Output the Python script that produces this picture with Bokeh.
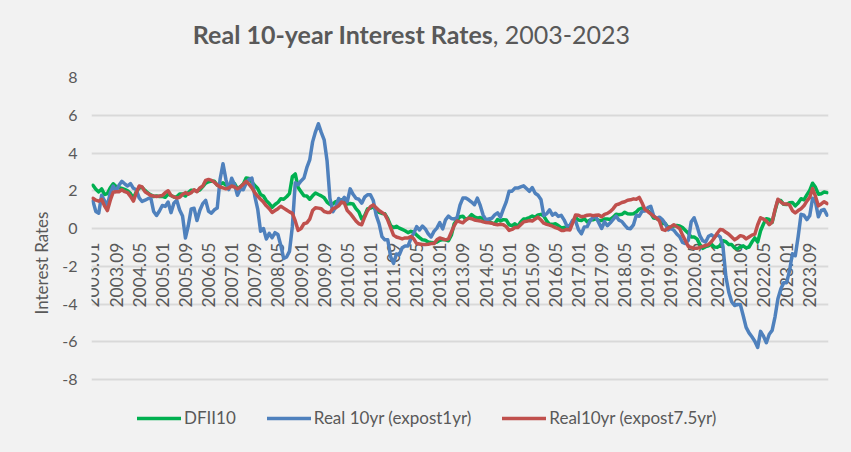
import math
from bokeh.plotting import figure
from bokeh.layouts import column
from bokeh.models import Range1d, FixedTicker, Legend, LegendItem, ColumnDataSource, Div
from bokeh.core.properties import value
from bokeh.embed import file_html
from bokeh.resources import INLINE

# ---------------- data (monthly, 2003.01 - 2024.03) ----------------
start_year = 2003
n_months = 255
months = [f"{start_year + i // 12}.{i % 12 + 1:02d}" for i in range(n_months)]

dfii10 = [
    2.29, 2.08, 1.94, 2.10, 1.80, 1.85, 2.16, 2.37, 2.22, 2.17, 2.12, 2.07,
    2.00, 1.85, 1.60, 1.95, 2.15, 2.18, 2.02, 1.88, 1.78, 1.70, 1.72, 1.70,
    1.70, 1.65, 1.82, 1.75, 1.67, 1.68, 1.83, 1.83, 1.72, 1.90, 2.03, 2.02,
    1.98, 2.05, 2.22, 2.40, 2.48, 2.52, 2.50, 2.30, 2.33, 2.42, 2.30, 2.27,
    2.43, 2.38, 2.10, 2.21, 2.35, 2.68, 2.65, 2.45, 2.28, 2.12, 1.80, 1.72,
    1.47, 1.32, 1.12, 1.27, 1.38, 1.58, 1.55, 1.68, 1.85, 2.75, 2.89, 2.17,
    1.95, 1.73, 1.72, 1.55, 1.73, 1.88, 1.80, 1.73, 1.63, 1.40, 1.27, 1.30,
    1.42, 1.46, 1.52, 1.44, 1.30, 1.32, 1.30, 1.05, 0.88, 0.50, 0.68, 1.04,
    1.08, 1.15, 0.98, 0.85, 0.80, 0.78, 0.52, 0.15, 0.05, 0.12, 0.02, -0.05,
    -0.12, -0.22, -0.15, -0.20, -0.35, -0.48, -0.60, -0.62, -0.72, -0.74, -0.76, -0.72,
    -0.62, -0.58, -0.60, -0.65, -0.36, 0.25, 0.46, 0.62, 0.65, 0.47, 0.56, 0.74,
    0.62, 0.55, 0.58, 0.52, 0.33, 0.38, 0.30, 0.25, 0.48, 0.40, 0.47, 0.45,
    0.20, 0.15, 0.25, 0.12, 0.35, 0.50, 0.52, 0.58, 0.66, 0.60, 0.72, 0.75,
    0.66, 0.40, 0.22, 0.22, 0.25, 0.16, 0.03, 0.06, 0.08, 0.10, 0.35, 0.57,
    0.45, 0.42, 0.52, 0.35, 0.45, 0.46, 0.52, 0.42, 0.42, 0.50, 0.50, 0.48,
    0.60, 0.75, 0.73, 0.75, 0.86, 0.78, 0.77, 0.78, 0.87, 1.03, 1.08, 0.98,
    0.96, 0.80, 0.55, 0.53, 0.45, 0.26, 0.26, 0.05, 0.10, 0.13, 0.16, 0.13,
    0.05, -0.10, -0.25, -0.45, -0.45, -0.55, -0.85, -1.05, -0.96, -0.92, -0.83, -0.98,
    -1.00, -0.90, -0.65, -0.70, -0.85, -0.85, -1.03, -1.08, -0.98, -0.92, -1.03, -0.98,
    -0.72, -0.50, -0.72, -0.12, 0.24, 0.52, 0.48, 0.32, 0.95, 1.50, 1.48, 1.28,
    1.27, 1.37, 1.38, 1.20, 1.35, 1.58, 1.52, 1.78, 2.02, 2.40, 2.18, 1.82,
    1.84, 1.93, 1.90,
]

real_expost_1yr = [
    1.45, 0.90, 0.81, 1.76, 1.47, 1.23, 1.88, 2.25, 1.97, 2.29, 2.50, 2.37,
    2.25, 2.38, 2.13, 2.05, 1.62, 1.43, 1.50, 1.58, 1.63, 0.90, 0.69, 0.93,
    1.22, 1.17, 1.40, 0.84, 1.34, 1.50, 0.98, 0.66, -0.50, 0.16, 1.04, 1.07,
    0.42, 0.97, 1.32, 1.49, 0.91, 0.81, 0.99, 1.08, 2.62, 3.43, 2.60, 2.06,
    2.66, 2.32, 1.76, 2.09, 2.05, 2.40, 2.60, 2.67, 1.72, 1.03, -0.15, 0.00,
    -0.56, -0.26, -0.49, -0.22, -0.32, -0.90, -1.59, -1.51, -1.21, 0.11, 2.43, 2.32,
    2.52, 2.67, 3.22, 3.63, 4.59, 5.12, 5.55, 5.09, 4.70, 3.59, 1.60, 0.89,
    1.13, 1.59, 1.43, 1.65, 1.42, 2.10, 1.81, 1.60, 1.55, 1.34, 1.66, 1.79,
    1.79, 1.48, 0.71, 0.26, -0.43, -0.60, -0.60, -1.50, -1.85, -1.35, -1.39, -1.02,
    -0.93, -0.93, -0.53, -0.25, 0.10, -0.08, 0.13, -0.02, -0.28, -0.45, -0.15, 0.02,
    0.31, -0.02, 0.46, 0.66, 0.53, 0.50, 0.58, 1.24, 1.61, 1.62, 1.52, 1.40,
    1.26, 1.61, 1.22, 0.71, 0.46, 0.50, 0.54, 0.72, 0.83, 0.60, 1.03, 1.41,
    1.98, 1.98, 2.14, 2.14, 2.20, 2.26, 2.12, 1.97, 2.17, 1.87, 1.76, 1.54,
    0.69, 0.78, 0.99, 0.71, 0.81, 0.64, 0.70, 0.46, 0.13, 0.16, 0.44, 0.39,
    -0.07, -0.28, 0.08, 0.10, 0.40, 0.59, 0.62, 0.31, 0.00, 0.36, 0.15, 0.30,
    0.48, 0.66, 0.44, 0.37, 0.18, 0.01, -0.01, 0.19, 0.70, 0.65, 0.92, 0.93,
    1.11, 1.18, 0.67, 0.53, 0.60, 0.47, 0.26, -0.07, 0.00, -0.09, -0.29, -0.44,
    -0.74, -0.80, -0.63, 0.36, 0.57, 0.13, -0.38, -0.65, -0.72, -0.41, -0.33, -0.47,
    -0.32, -0.44, -0.99, -2.56, -3.38, -3.88, -4.08, -4.02, -4.03, -4.62, -5.24, -5.53,
    -5.74, -5.97, -6.30, -5.45, -5.70, -6.05, -5.60, -5.40, -4.68, -3.72, -3.21, -2.88,
    -2.87, -2.25, -1.34, -1.44, -0.43, 0.75, 0.70, 0.47, 0.68, 1.60, 1.40, 0.62,
    0.96, 1.01, 0.71,
]

real_expost_7_5yr = [
    1.60, 1.50, 1.45, 1.55, 1.20, 0.95, 1.50, 1.92, 1.95, 1.95, 2.05, 1.95,
    1.90, 1.70, 1.45, 1.90, 2.25, 2.20, 1.95, 1.85, 1.75, 1.72, 1.70, 1.72,
    1.75, 1.90, 2.00, 1.75, 1.68, 1.62, 1.65, 1.80, 1.90, 1.82, 1.90, 2.05,
    1.95, 2.15, 2.25, 2.55, 2.60, 2.55, 2.45, 2.30, 2.20, 2.15, 2.10, 2.15,
    2.25, 2.20, 2.10, 2.20, 2.35, 2.50, 2.35, 2.15, 1.90, 1.72, 1.55, 1.40,
    1.20, 1.05, 0.85, 0.95, 1.05, 1.18, 1.08, 0.98, 0.88, 0.80, 0.40, -0.10,
    0.00, 0.25, 0.30, 0.50, 0.95, 1.10, 1.08, 1.05, 0.90, 0.85, 0.85, 1.05,
    1.10, 1.20, 1.40, 1.35, 0.95, 0.80, 0.60, 0.40, 0.25, 0.20, 0.60, 0.95,
    1.15, 1.25, 1.10, 0.95, 0.85, 0.75, 0.45, 0.05, -0.35, -0.45, -0.50, -0.55,
    -0.50, -0.50, -0.42, -0.55, -0.80, -0.82, -0.85, -0.85, -0.83, -0.80, -0.80, -0.60,
    -0.50, -0.55, -0.60, -0.55, -0.20, 0.15, 0.40, 0.35, 0.30, 0.45, 0.55, 0.52,
    0.45, 0.42, 0.40, 0.35, 0.32, 0.30, 0.28, 0.22, 0.20, 0.22, 0.20, 0.10,
    -0.10, -0.05, 0.05, 0.05, 0.20, 0.35, 0.38, 0.42, 0.40, 0.50, 0.60, 0.45,
    0.28, 0.22, 0.18, 0.12, 0.05, 0.00, -0.10, -0.10, -0.05, -0.08, 0.30, 0.72,
    0.70, 0.62, 0.65, 0.70, 0.72, 0.68, 0.70, 0.72, 0.62, 0.75, 0.80, 0.90,
    1.05, 1.25, 1.30, 1.38, 1.42, 1.50, 1.52, 1.57, 1.55, 1.65, 1.35, 1.00,
    0.90, 0.78, 0.65, 0.55, 0.40, -0.05, -0.10, 0.02, 0.10, 0.20, 0.10, 0.00,
    -0.35, -0.65, -0.95, -1.00, -1.05, -1.05, -1.00, -0.95, -0.90, -0.85, -0.70, -0.50,
    -0.25, -0.05, -0.08, -0.20, -0.30, -0.45, -0.60, -0.50, -0.38, -0.42, -0.55, -0.45,
    -0.35, -0.30, 0.20, 0.57, 0.50, 0.40, 0.20, 0.35, 1.00, 1.55, 1.40, 1.30,
    1.30, 1.25, 0.95, 0.82, 0.95, 1.05, 1.20, 1.45, 1.65, 2.12, 1.70, 1.20,
    1.30, 1.42, 1.32,
]

tick_labels = [
    "2003.01", "2003.09", "2004.05", "2005.01", "2005.09", "2006.05", "2007.01", "2007.09",
    "2008.05", "2009.01", "2009.09", "2010.05", "2011.01", "2011.09", "2012.05", "2013.01",
    "2013.09", "2014.05", "2015.01", "2015.09", "2016.05", "2017.01", "2017.09", "2018.05",
    "2019.01", "2019.09", "2020.05", "2021.01", "2021.09", "2022.05", "2023.01", "2023.09",
]
y_ticks = [-8, -6, -4, -2, 0, 2, 4, 6, 8]

series_names = ["DFII10", "Real 10yr (expost1yr)", "Real10yr (expost7.5yr)"]
series_colors = ["#00B050", "#4F81BD", "#C0504D"]

TEXT = "#595959"
FONT = "Lato"
BG = "#F2F2F2"

# ---------------- title ----------------
title = Div(
    text=('<div style="width:823px; padding-top:19px; text-align:center; '
          'font-family:Lato; font-size:25px; line-height:30px; color:#595959; white-space:nowrap;">'
          '<b>Real 10-year Interest Rates</b>, 2003-2023</div>'),
    width=851, height=67, margin=0,
    styles={"background-color": BG},
)

# ---------------- figure ----------------
# The frame reaches down to the legend row; grid and axis stay on -8..8.
px_per_unit = 302 / 16
y_bottom = -8 - 69 / px_per_unit

p = figure(
    width=851, height=385,
    output_backend="svg", toolbar_location=None,
    x_range=Range1d(-0.5, n_months - 0.5), y_range=Range1d(y_bottom, 8),
    min_border_left=91, min_border_right=23, min_border_top=10, min_border_bottom=4,
    background_fill_color=BG, border_fill_color=BG,
    outline_line_color=None, margin=0,
    styles={"background-color": BG},
)

p.xaxis.visible = False
p.xgrid.visible = False
p.ygrid.grid_line_color = "#D9D9D9"
p.ygrid.grid_line_width = 2
p.ygrid.bounds = (-8, 8)

p.yaxis.bounds = (-8, 8)
p.yaxis.ticker = FixedTicker(ticks=y_ticks)
p.yaxis.major_label_overrides = {t: str(t) for t in y_ticks}
p.yaxis.axis_line_color = None
p.yaxis.major_tick_line_color = None
p.yaxis.minor_tick_line_color = None
p.yaxis.major_tick_out = 0
p.yaxis.major_tick_in = 0
p.yaxis.major_label_standoff = 14
p.yaxis.major_label_text_font = FONT
p.yaxis.major_label_text_font_size = "16px"
p.yaxis.major_label_text_color = TEXT
p.yaxis.axis_label = "Interest Rates"
p.yaxis.axis_label_text_font = FONT
p.yaxis.axis_label_text_font_size = "17px"
p.yaxis.axis_label_text_font_style = "normal"
p.yaxis.axis_label_text_color = TEXT
p.yaxis.axis_label_standoff = 7

# category labels sitting below the zero line
tick_x = [months.index(t) for t in tick_labels]
label_src = ColumnDataSource(dict(x=tick_x, y=[0] * len(tick_x), text=tick_labels))
p.text(x="x", y="y", text="text", source=label_src, angle=math.pi / 2,
       text_align="right", text_baseline="middle", y_offset=14,
       text_font=value(FONT), text_font_size="17.5px", text_color=TEXT)

x = list(range(n_months))
renderers = []
for vals, color in zip([dfii10, real_expost_1yr, real_expost_7_5yr], series_colors):
    r = p.line(x, vals, line_color=color, line_width=3.5, line_join="round", line_cap="round")
    renderers.append(r)

legend = Legend(
    items=[LegendItem(label=nm, renderers=[r]) for nm, r in zip(series_names, renderers)],
    orientation="horizontal", location=(46, 20),
    background_fill_alpha=0, border_line_alpha=0,
    padding=0, margin=0, spacing=31, label_standoff=3,
    glyph_width=44, glyph_height=20,
    label_text_font=FONT, label_text_font_size="17px", label_text_color=TEXT,
)
p.add_layout(legend)

page = column(title, p, spacing=0, margin=0,
              styles={"background-color": BG, "outline": "1px solid #D9D9D9",
                      "outline-offset": "-1px"})
open("out.html", "w").write(file_html(page, INLINE))
